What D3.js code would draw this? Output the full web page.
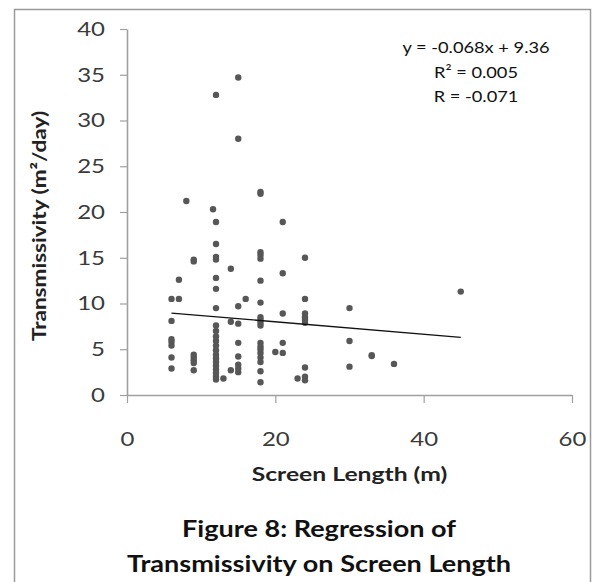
<!DOCTYPE html>
<html>
<head>
<meta charset="utf-8">
<script src="https://cdn.jsdelivr.net/npm/d3@7"></script>
<style>
	body { margin: 0; background: #fff; }
	text { font-family: Lato, 'Open Sans', sans-serif; }
</style>
</head>
<body>
<div id="canvas"></div>
<script>
// screen length (m) and transmissivity (m2/day), paired by index
const screenLength = [
	6, 6, 6, 6, 6, 6, 6,
	7, 7,
	8,
	9, 9, 9, 9, 9, 9, 9,
	11.6,
	12, 12, 12, 12, 12, 12, 12, 12, 12, 12, 12, 12, 12, 12, 12, 12, 12, 12, 12, 12, 12, 12,
	13,
	14, 14, 14,
	15, 15, 15, 15, 15, 15, 15, 15, 15,
	16,
	18, 18, 18, 18, 18, 18, 18, 18, 18, 18, 18, 18, 18, 18, 18, 18, 18, 18, 18,
	20,
	21, 21, 21, 21, 21,
	23,
	24, 24, 24, 24, 24, 24, 24, 24, 24,
	30, 30, 30,
	33, 33,
	36,
	45,
];
const transmissivity = [
	10.5, 8.1, 6.1, 5.8, 5.4, 4.1, 2.9,
	12.6, 10.5,
	21.2,
	14.8, 14.6, 4.4, 4.1, 3.8, 3.5, 2.7,
	20.3,
	32.8, 18.9, 16.5, 15.1, 14.8, 12.8, 11.6, 9.5, 7.6, 7.0, 6.4, 5.9, 5.4, 4.9, 4.4, 4.0, 3.6, 3.2, 2.8, 2.4, 2.0, 1.7,
	1.8,
	13.8, 8.0, 2.7,
	34.7, 28.0, 9.7, 7.8, 5.7, 4.2, 3.3, 2.9, 2.5,
	10.5,
	22.2, 22.0, 15.6, 15.3, 14.9, 12.5, 10.1, 8.5, 8.2, 7.9, 7.6, 5.7, 5.3, 5.0, 4.6, 4.1, 3.6, 2.6, 1.4,
	4.7,
	18.9, 13.3, 8.9, 5.7, 4.6,
	1.8,
	15.0, 10.5, 8.9, 8.5, 8.2, 7.9, 3.0, 2.0, 1.6,
	9.5, 5.9, 3.1,
	4.35, 4.25,
	3.4,
	11.3,
];
const xTicks = [0, 20, 40, 60];
const yTicks = [0, 5, 10, 15, 20, 25, 30, 35, 40];
const fit = { slope: -0.068, intercept: 9.36 };
const statLines = ['y = -0.068x + 9.36', 'R² = 0.005', 'R = -0.071'];
const captionLines = ['Figure 8: Regression of', 'Transmissivity on Screen Length'];

const width = 598;
const height = 582;
const margins = { top: 29, right: 26, bottom: 187, left: 127 };
// the source picture is stretched sideways, so text gets a little x-scale
const tickStretch = 1.2;

const svg = d3
	.select('#canvas')
	.append('svg')
	.attr('width', width)
	.attr('height', height);

// outer frame of the figure
svg.append('rect')
	.attr('x', 14.5)
	.attr('y', 9.5)
	.attr('width', 576)
	.attr('height', 600)
	.attr('fill', 'none')
	.attr('stroke', '#9a9a9a')
	.attr('stroke-width', 1.5);

const xScale = d3
	.scaleLinear()
	.domain([0, 60])
	.range([margins.left, width - margins.right]);

const yScale = d3
	.scaleLinear()
	.domain([0, 40])
	.range([height - margins.bottom, margins.top]);

const xAxis = svg
	.append('g')
	.attr('transform', `translate(0, ${yScale(0)})`)
	.call(d3.axisBottom(xScale).tickValues(xTicks).tickSize(8).tickSizeOuter(0));

const yAxis = svg
	.append('g')
	.attr('transform', `translate(${xScale(0)}, 0)`)
	.call(d3.axisLeft(yScale).tickValues(yTicks).tickSize(7).tickSizeOuter(0));

[xAxis, yAxis].forEach(ax => {
	ax.select('.domain').attr('stroke', '#a0a0a0').attr('stroke-width', 1.6);
	ax.selectAll('.tick line').attr('stroke', '#a0a0a0').attr('stroke-width', 1.2);
	ax.selectAll('.tick text')
		.attr('fill', '#3a3a3a')
		.style('font-size', '20px')
		.style('font-family', 'Lato, sans-serif');
});
xAxis.selectAll('.tick text')
	.attr('y', 0)
	.attr('dy', 0)
	.attr('transform', `translate(0, 51) scale(${tickStretch}, 1)`);
yAxis.selectAll('.tick text')
	.attr('x', 0)
	.attr('transform', `translate(-22, 0) scale(${tickStretch}, 1)`);

// points
const pts = screenLength.map((x, i) => ({ x, y: transmissivity[i] }));
svg.append('g')
	.selectAll('circle')
	.data(pts)
	.join('circle')
	.attr('cx', d => xScale(d.x))
	.attr('cy', d => yScale(d.y))
	.attr('r', 3.2)
	.attr('fill', '#575757');

// regression line over data range
const [xMin, xMax] = d3.extent(screenLength);
svg.append('line')
	.attr('x1', xScale(xMin))
	.attr('y1', yScale(fit.slope * xMin + fit.intercept))
	.attr('x2', xScale(xMax))
	.attr('y2', yScale(fit.slope * xMax + fit.intercept))
	.attr('stroke', '#111')
	.attr('stroke-width', 1.3);

// equation box
svg.append('g')
	.selectAll('text')
	.data(statLines)
	.join('text')
	.attr('transform', (d, i) => `translate(476, ${53 + i * 24.5}) scale(1.14, 1)`)
	.attr('text-anchor', 'middle')
	.attr('fill', '#111')
	.style('font-size', '16px')
	.text(d => d);

// axis titles
svg.append('text')
	.attr('transform', `translate(${(xScale(0) + xScale(60)) / 2}, 481) scale(1.3, 1)`)
	.attr('text-anchor', 'middle')
	.attr('fill', '#222')
	.style('font-size', '19px')
	.style('font-weight', 'bold')
	.text('Screen Length (m)');

svg.append('text')
	.attr('transform', `translate(46, 226) rotate(-90) scale(1.22, 1)`)
	.attr('text-anchor', 'middle')
	.attr('fill', '#222')
	.style('font-size', '18.5px')
	.style('font-weight', 'bold')
	.text('Transmissivity (m²/day)');

// caption
svg.append('g')
	.selectAll('text')
	.data(captionLines)
	.join('text')
	.attr('transform', (d, i) => `translate(319, ${537 + i * 35}) scale(1.23, 1)`)
	.attr('text-anchor', 'middle')
	.attr('fill', '#111')
	.style('font-size', '22px')
	.style('font-weight', 'bold')
	.text(d => d);
</script>
</body>
</html>
